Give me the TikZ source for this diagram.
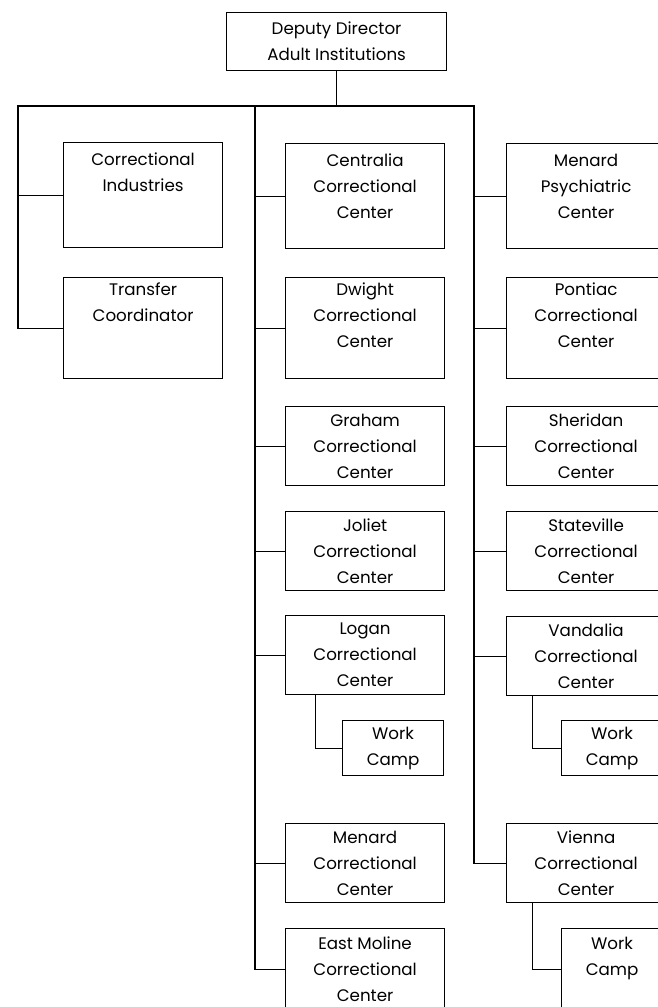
\documentclass[tikz,border=0pt]{standalone}
\usepackage{fontspec}
\setmainfont{Poppins}
\usepackage{tikz}
\usetikzlibrary{positioning}
\newcommand{\lowpad}[1]{\rule[-#1]{0pt}{#1}}

\begin{document}
\begin{tikzpicture}[x=1pt, y=-1pt,
  unit/.style={rectangle, draw=black, line width=1.2pt, anchor=north west,
    minimum width=159pt, minimum height=79pt, align=center, inner sep=2pt,
    font=\fontsize{16.7}{26}\selectfont},
  camp/.style={unit, minimum width=101pt, minimum height=55pt},
  link/.style={draw=black, line width=1.2pt},
]
  \useasboundingbox (0,0) rectangle (658,1007);
  \fill[white] (0,0) rectangle (658,1007);
  \clip (0,0) rectangle (658,1007);

  % Head
  \node[unit, minimum width=220pt, minimum height=58pt] (deputy)
    at (226,12) {Deputy Director\\Adult Institutions};

  % Left column
  \node[unit, minimum height=105pt] (industries) at (63,142) {Correctional\\Industries\lowpad{45pt}};
  \node[unit, minimum height=101pt] (transfer) at (63,277) {Transfer\\Coordinator\lowpad{51pt}};

  % Middle column
  \node[unit, minimum height=105pt] (centralia) at (285,143) {Centralia\\Correctional\\Center\lowpad{20pt}};
  \node[unit, minimum height=101pt] (dwight) at (285,277) {Dwight\\Correctional\\Center\lowpad{25pt}};
  \node[unit] (graham) at (285,406) {Graham\\Correctional\\Center};
  \node[unit] (joliet) at (285,511) {Joliet\\Correctional\\Center};
  \node[unit] (logan) at (285,615) {Logan\\Correctional\\Center};
  \node[camp] (logancamp) at (342,720) {Work\\Camp};
  \node[unit] (menardcc) at (285,823) {Menard\\Correctional\\Center};
  \node[unit, minimum height=82pt] (eastmoline) at (285,928) {East Moline\\Correctional\\Center};

  % Right column
  \node[unit, minimum height=105pt] (psych) at (506,143) {Menard\\Psychiatric\\Center\lowpad{20pt}};
  \node[unit, minimum height=101pt] (pontiac) at (506,277) {Pontiac\\Correctional\\Center\lowpad{25pt}};
  \node[unit] (sheridan) at (506,406) {Sheridan\\Correctional\\Center};
  \node[unit] (stateville) at (506,511) {Stateville\\Correctional\\Center};
  \node[unit] (vandalia) at (506,616) {Vandalia\\Correctional\\Center};
  \node[camp] (vandaliacamp) at (561,720) {Work\\Camp};
  \node[unit] (vienna) at (506,823) {Vienna\\Correctional\\Center};
  \node[camp, minimum height=82pt] (viennacamp) at (561,928) {Work\\Camp\lowpad{26pt}};

  % Bus lines
  \coordinate (busL) at (18,106);
  \coordinate (busM) at (255,106);
  \coordinate (busR) at (474,106);
  \draw[link] (deputy.south) -- (deputy.south |- busM);
  \draw[link] (transfer.west) -| (busL) -- (busR) |- (vienna.west);
  \draw[link] (busL |- industries.west) -- (industries.west);
  \draw[link] (busM) |- (eastmoline.west);
  \foreach \n in {centralia, dwight, graham, joliet, logan, menardcc}
    \draw[link] (busM |- \n.west) -- (\n.west);
  \foreach \n in {psych, pontiac, sheridan, stateville, vandalia}
    \draw[link] (busR |- \n.west) -- (\n.west);

  % Work camps
  \draw[link] ([xshift=-50pt]logan.south) |- (logancamp.west);
  \draw[link] ([xshift=-54pt]vandalia.south) |- (vandaliacamp.west);
  \draw[link] ([xshift=-54pt]vienna.south) |- (viennacamp.west);
\end{tikzpicture}
\end{document}
